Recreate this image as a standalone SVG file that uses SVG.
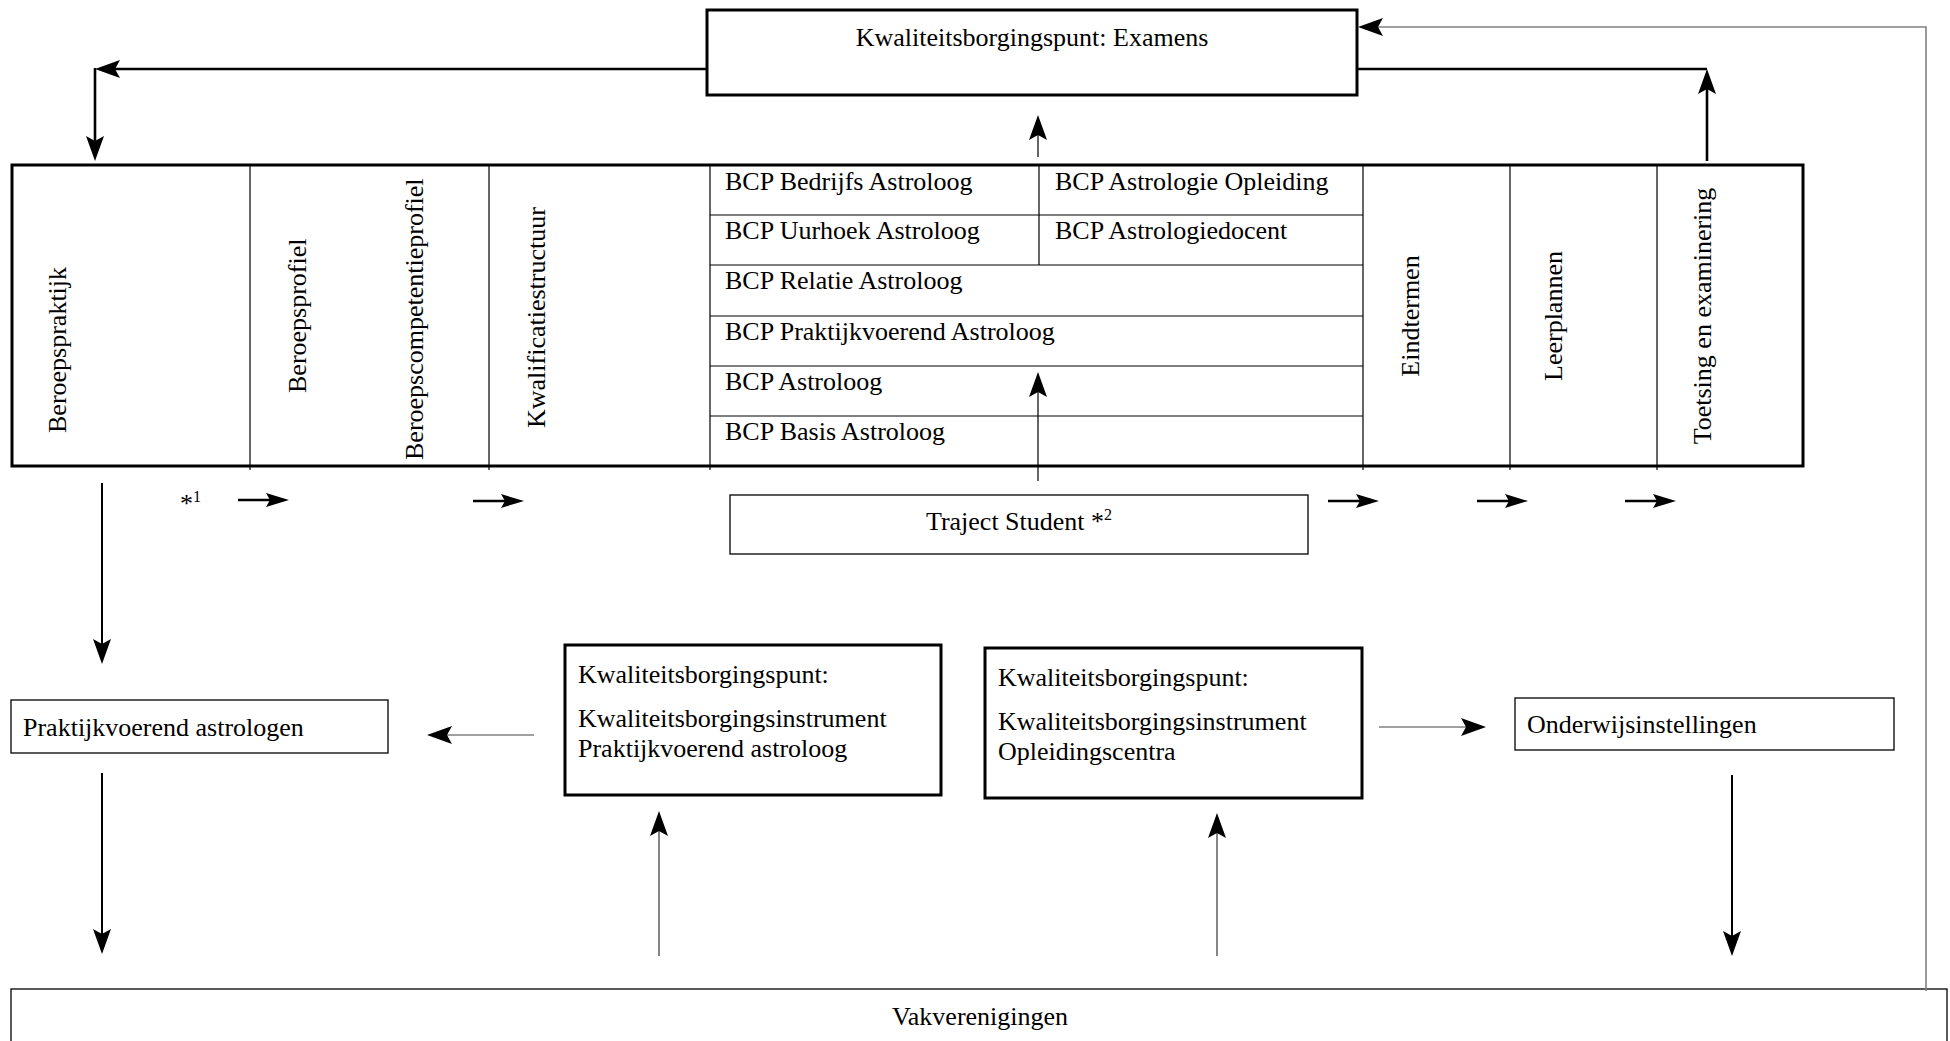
<svg xmlns="http://www.w3.org/2000/svg" width="1950" height="1041" viewBox="0 0 1950 1041">
<style>
text{font-family:"Liberation Serif","Times New Roman",serif;font-size:26px;fill:#000}
.thick{fill:#fff;stroke:#000;stroke-width:3}
.thin{fill:#fff;stroke:#000;stroke-width:1.3}
.grid{stroke:#000;stroke-width:1.2;fill:none}
.c{fill:none;stroke:#000}
.w3{stroke-width:2.6}
.w2{stroke-width:2}
.w1{stroke-width:1.2}
.gray{stroke:#808080;stroke-width:1.6}
.dg{stroke:#444;stroke-width:1.3}
.mid{text-anchor:middle}
</style>
<defs>
<marker id="ah" markerUnits="userSpaceOnUse" markerWidth="30" markerHeight="20" refX="15" refY="9" orient="auto">
<path d="M0,0 L25,9 L0,18 L5,9 Z" fill="#000"/>
</marker>
<marker id="as" markerUnits="userSpaceOnUse" markerWidth="26" markerHeight="16" refX="12" refY="7" orient="auto">
<path d="M0,0 L23,7 L0,14 L4,7 Z" fill="#000"/>
</marker>
</defs>

<g id="examens">
<rect class="thick" x="707" y="10" width="650" height="85"/>
<text class="mid" x="1032" y="46">Kwaliteitsborgingspunt: Examens</text>
</g>

<g id="table">
<rect class="thick" x="12" y="165" width="1791" height="301"/>
<path class="grid" d="M250,165 V470 M489,165 V470 M710,165 V470 M1363,165 V470 M1510,165 V470 M1657,165 V470 M1039,165 V265 M710,215 H1363 M710,265 H1363 M710,316 H1363 M710,366 H1363 M710,416 H1363"/>
</g>

<g id="beroepspraktijk"><text transform="translate(66,433) rotate(-90)">Beroepspraktijk</text></g>
<g id="beroepsprofiel"><text transform="translate(306,393) rotate(-90)">Beroepsprofiel</text></g>
<g id="beroepscompetentieprofiel"><text transform="translate(423,460) rotate(-90)">Beroepscompetentieprofiel</text></g>
<g id="kwalificatiestructuur"><text transform="translate(545,428) rotate(-90)">Kwalificatiestructuur</text></g>

<g id="bcp-bedrijfs"><text x="725" y="190">BCP Bedrijfs Astroloog</text></g>
<g id="bcp-opleiding"><text x="1055" y="190">BCP Astrologie Opleiding</text></g>
<g id="bcp-uurhoek"><text x="725" y="239">BCP Uurhoek Astroloog</text></g>
<g id="bcp-docent"><text x="1055" y="239">BCP Astrologiedocent</text></g>
<g id="bcp-relatie"><text x="725" y="289">BCP Relatie Astroloog</text></g>
<g id="bcp-praktijk"><text x="725" y="340">BCP Praktijkvoerend Astroloog</text></g>
<g id="bcp-astroloog"><text x="725" y="390">BCP Astroloog</text></g>
<g id="bcp-basis"><text x="725" y="440">BCP Basis Astroloog</text></g>

<g id="eindtermen"><text class="mid" transform="translate(1419,316) rotate(-90)">Eindtermen</text></g>
<g id="leerplannen"><text class="mid" transform="translate(1562,316) rotate(-90)">Leerplannen</text></g>
<g id="toetsing"><text class="mid" transform="translate(1711,316) rotate(-90)">Toetsing en examinering</text></g>

<g id="note1"><text x="180" y="512">*<tspan font-size="16" dy="-10">1</tspan></text></g>

<g id="traject">
<rect class="thin" x="730" y="495" width="578" height="59"/>
<text class="mid" x="1019" y="530">Traject Student *<tspan font-size="16" dy="-10">2</tspan></text>
</g>

<g id="praktijkvoerend-astrologen">
<rect class="thin" x="11" y="700" width="377" height="53"/>
<text x="23" y="736">Praktijkvoerend astrologen</text>
</g>

<g id="kwal-praktijk">
<rect class="thick" x="565" y="645" width="376" height="150"/>
<text x="578" y="683">Kwaliteitsborgingspunt:</text>
<text x="578" y="727">Kwaliteitsborgingsinstrument</text>
<text x="578" y="757">Praktijkvoerend astroloog</text>
</g>

<g id="kwal-opleiding">
<rect class="thick" x="985" y="648" width="377" height="150"/>
<text x="998" y="686">Kwaliteitsborgingspunt:</text>
<text x="998" y="730">Kwaliteitsborgingsinstrument</text>
<text x="998" y="760">Opleidingscentra</text>
</g>

<g id="onderwijsinstellingen">
<rect class="thin" x="1515" y="698" width="379" height="52"/>
<text x="1527" y="733">Onderwijsinstellingen</text>
</g>

<g id="vakverenigingen">
<rect class="thin" x="11" y="989" width="1936" height="80"/>
<text class="mid" x="980" y="1025">Vakverenigingen</text>
</g>

<g id="connectors">
<path class="c w3" d="M707,69 H105" marker-end="url(#ah)"/>
<path class="c w3" d="M95,68 V151" marker-end="url(#ah)"/>
<path class="c w3" d="M1356,69 H1707"/>
<path class="c w3" d="M1707,161 V79" marker-end="url(#ah)"/>
<path class="c w1" d="M1038,157 V125" marker-end="url(#ah)"/>
<path class="c gray" d="M1926,991 V27 H1368" marker-end="url(#ah)"/>
<path class="c w1" d="M1038,481 V382" marker-end="url(#ah)"/>
<path class="c w2" d="M102,483 V654" marker-end="url(#ah)"/>
<path class="c w2" d="M102,773 V944" marker-end="url(#ah)"/>
<path class="c gray" d="M534,735 H437" marker-end="url(#ah)"/>
<path class="c dg" d="M659,956 V821" marker-end="url(#ah)"/>
<path class="c dg" d="M1217,956 V823" marker-end="url(#ah)"/>
<path class="c gray" d="M1379,727 H1476" marker-end="url(#ah)"/>
<path class="c w2" d="M1732,775 V946" marker-end="url(#ah)"/>
<path class="c w3" d="M238,500 H278" marker-end="url(#as)"/>
<path class="c w3" d="M473,501 H513" marker-end="url(#as)"/>
<path class="c w3" d="M1328,501 H1368" marker-end="url(#as)"/>
<path class="c w3" d="M1477,501 H1517" marker-end="url(#as)"/>
<path class="c w3" d="M1625,501 H1665" marker-end="url(#as)"/>
</g>
</svg>
